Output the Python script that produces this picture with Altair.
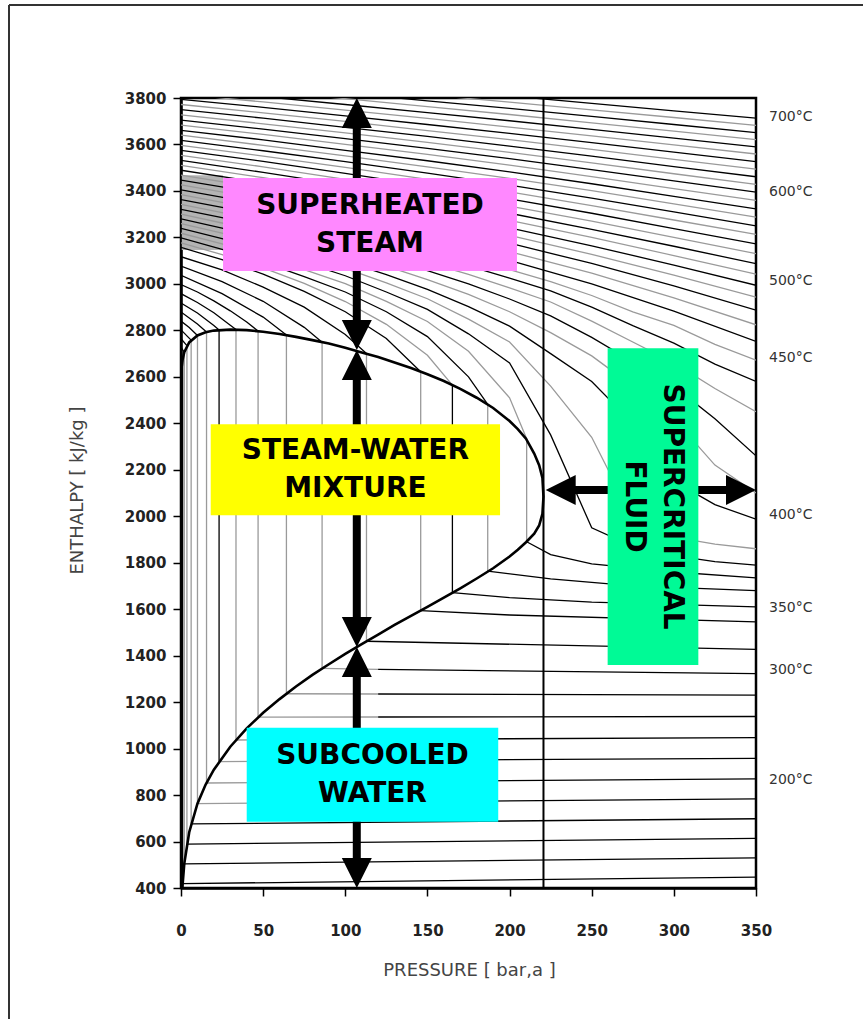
import altair as alt
import pandas as pd

# ---------------------------------------------------------------------------
# Axis ranges and ticks
# ---------------------------------------------------------------------------
P_DOMAIN = [0, 350]            # pressure, bar(a)
H_DOMAIN = [400, 3800]         # enthalpy, kJ/kg
P_TICKS = [0, 50, 100, 150, 200, 250, 300, 350]
H_TICKS = list(range(400, 3801, 200))
P_CRIT = 220.64                # critical pressure, bar

# ---------------------------------------------------------------------------
# Isotherms above the critical temperature
# ---------------------------------------------------------------------------
P_FINE = [0, 25, 50, 75, 100, 125, 150, 175, 200, 225, 250, 275, 300, 325, 350]
P_COARSE = [0, 50, 100, 150, 200, 250, 300, 350]

# enthalpy along 380-450 °C isotherms, sampled on P_FINE
H_FINE = {
    380: [3239, 3195, 3147, 3093, 3035, 2965, 2890, 2785, 2660, 2350, 1950, 1870, 1830, 1805, 1790],
    390: [3259, 3218, 3172, 3121, 3067, 3004, 2936, 2848, 2750, 2560, 2340, 1990, 1910, 1880, 1860],
    400: [3280, 3240, 3196, 3148, 3097, 3040, 2976, 2902, 2818, 2700, 2580, 2400, 2151, 2050, 1987],
    410: [3300, 3262, 3220, 3175, 3128, 3076, 3018, 2955, 2880, 2790, 2690, 2560, 2420, 2220, 2100],
    420: [3321, 3285, 3245, 3202, 3158, 3110, 3057, 3000, 2935, 2862, 2770, 2665, 2560, 2420, 2260],
    430: [3342, 3307, 3269, 3228, 3187, 3142, 3093, 3041, 2983, 2922, 2840, 2750, 2660, 2550, 2450],
    440: [3363, 3329, 3293, 3254, 3214, 3172, 3126, 3078, 3025, 2970, 2900, 2820, 2745, 2655, 2580],
    450: [3384, 3351, 3317, 3280, 3241, 3201, 3157, 3111, 3061, 3010, 2950, 2880, 2821, 2740, 2672],
}

# enthalpy along 460-700 °C isotherms, sampled on P_COARSE
H_COARSE = {
    460: [3405, 3341, 3269, 3190, 3101, 3000, 2883, 2752],
    470: [3426, 3365, 3296, 3222, 3139, 3046, 2940, 2824],
    480: [3447, 3388, 3323, 3253, 3175, 3088, 2991, 2887],
    490: [3468, 3411, 3349, 3282, 3209, 3127, 3038, 2943],
    500: [3489, 3434, 3374, 3310, 3241, 3164, 3081, 2994],
    510: [3510, 3457, 3400, 3338, 3273, 3200, 3122, 3042],
    520: [3532, 3480, 3425, 3366, 3304, 3235, 3162, 3087],
    530: [3553, 3504, 3450, 3394, 3335, 3270, 3200, 3130],
    540: [3575, 3527, 3476, 3422, 3366, 3304, 3238, 3172],
    550: [3596, 3550, 3501, 3450, 3396, 3337, 3275, 3213],
    560: [3618, 3573, 3526, 3477, 3425, 3369, 3310, 3250],
    570: [3640, 3596, 3551, 3504, 3454, 3401, 3344, 3287],
    580: [3661, 3620, 3575, 3530, 3482, 3431, 3377, 3323],
    590: [3683, 3643, 3600, 3557, 3511, 3462, 3410, 3359],
    600: [3705, 3666, 3625, 3583, 3539, 3492, 3443, 3395],
    610: [3727, 3689, 3650, 3609, 3566, 3521, 3474, 3428],
    620: [3750, 3713, 3674, 3635, 3593, 3550, 3505, 3461],
    630: [3772, 3736, 3699, 3660, 3621, 3579, 3536, 3494],
    640: [3794, 3760, 3723, 3686, 3648, 3608, 3567, 3526],
    650: [3817, 3783, 3748, 3712, 3675, 3637, 3598, 3559],
    660: [3839, 3806, 3772, 3737, 3702, 3665, 3627, 3590],
    670: [3861, 3830, 3797, 3763, 3729, 3693, 3657, 3621],
    680: [3884, 3853, 3821, 3788, 3755, 3721, 3686, 3651],
    690: [3906, 3877, 3846, 3814, 3782, 3749, 3716, 3682],
    700: [3929, 3900, 3870, 3839, 3809, 3777, 3745, 3713],
}

# ---------------------------------------------------------------------------
# Isotherms below the critical temperature
# vapour branch: p = 0 up to saturation (last point sits on the vapour line)
# liquid branch: saturation (first point on the liquid line) up to 350 bar
# ---------------------------------------------------------------------------
VAP_P = {
    100: [0, 1.01],
    120: [0, 1.99],
    140: [0, 3.61],
    160: [0, 6.18],
    180: [0, 5, 10.03],
    200: [0, 10, 15.54],
    220: [0, 10, 20, 23.18],
    240: [0, 10, 20, 30, 33.47],
    260: [0, 10, 20, 30, 40, 46.92],
    280: [0, 25, 50, 64.17],
    300: [0, 25, 50, 75, 85.88],
    320: [0, 25, 50, 75, 100, 112.9],
    340: [0, 25, 50, 75, 100, 125, 145.9],
    350: [0, 25, 50, 75, 100, 125, 150, 165.2],
    360: [0, 25, 50, 75, 100, 125, 150, 175, 186.7],
    370: [0, 25, 50, 75, 100, 125, 150, 175, 200, 210.4],
}
VAP_H = {
    100: [2688, 2676],
    120: [2727, 2706],
    140: [2764, 2734],
    160: [2802, 2758],
    180: [2840, 2812, 2778],
    200: [2879, 2827, 2793],
    220: [2918, 2875, 2821, 2802],
    240: [2958, 2920, 2876, 2822, 2804],
    260: [2997, 2965, 2927, 2884, 2836, 2797],
    280: [3037, 2958, 2857, 2780],
    300: [3077, 3010, 2925, 2813, 2749],
    320: [3117, 3060, 2986, 2900, 2782, 2700],
    340: [3157, 3104, 3042, 2968, 2880, 2765, 2622],
    350: [3177, 3126, 3069, 3002, 2924, 2826, 2693, 2564],
    360: [3198, 3149, 3094, 3031, 2965, 2880, 2773, 2600, 2481],
    370: [3218, 3172, 3120, 3061, 3001, 2925, 2838, 2710, 2510, 2334],
}
LIQ_P = {
    100: [1.01, 350],
    120: [1.99, 350],
    140: [3.61, 350],
    160: [6.18, 350],
    180: [10.03, 120, 350],
    200: [15.54, 120, 350],
    220: [23.18, 120, 350],
    240: [33.47, 120, 350],
    260: [46.92, 120, 350],
    280: [64.17, 120, 350],
    300: [85.88, 120, 350],
    320: [112.9, 350],
    340: [145.9, 200, 350],
    350: [165.2, 200, 250, 350],
    360: [186.7, 225, 275, 350],
    370: [210.4, 225, 250, 300, 350],
}
LIQ_H = {
    100: [419, 447],
    120: [504, 530],
    140: [589, 614],
    160: [676, 698],
    180: [763, 770, 784],
    200: [852, 858, 870],
    220: [944, 949, 958],
    240: [1037, 1040, 1047],
    260: [1135, 1136, 1138],
    280: [1236, 1235, 1230],
    300: [1345, 1341, 1323],
    320: [1462, 1427],
    340: [1594, 1575, 1545],
    350: [1671, 1650, 1630, 1610],
    360: [1764, 1730, 1700, 1680],
    370: [1890, 1835, 1795, 1760, 1735],
}
BLACK_MIX = [100, 220, 350]              # two-phase verticals drawn in black
GREY_LIQ = [180, 200, 220, 240, 260, 280, 300]
LIQ_SPLIT = 120                          # grey/black change on those liquid lines

# ---------------------------------------------------------------------------
# Saturation dome (liquid line up to the critical point, then vapour line)
# ---------------------------------------------------------------------------
DOME_P = [0.7, 1, 2, 5, 10, 15, 20, 30, 40, 50, 60, 70, 80, 90, 100, 110, 120,
          130, 140, 150, 160, 170, 180, 190, 200, 205, 210, 215, 218, 220, 220.64,
          220, 218, 215, 210, 205, 200, 190, 180, 170, 160, 150, 140, 130, 120,
          110, 100, 90, 80, 70, 60, 50, 40, 30, 20, 15, 10, 5, 2, 1, 0.5]
DOME_H = [377, 417, 505, 640, 763, 845, 909, 1008, 1087, 1154, 1213, 1267, 1317,
          1363, 1408, 1450, 1491, 1532, 1571, 1610, 1650, 1690, 1732, 1776, 1827,
          1856, 1888, 1925, 1960, 2010, 2084,
          2165, 2220, 2270, 2334, 2375, 2410, 2466, 2510, 2548, 2582, 2611, 2638,
          2662, 2685, 2705, 2725, 2743, 2758, 2772, 2784, 2794, 2801, 2803, 2799,
          2792, 2778, 2748, 2706, 2675, 2646]

# grey hatch patch in the low-pressure superheated corner
PATCH_P = [0.5, 25.6]
PATCH_TOP = [3468, 3468]
PATCH_BOT = [3146, 3146]

# ---------------------------------------------------------------------------
# Region boxes and their labels
# ---------------------------------------------------------------------------
BOX_NAMES = ["superheated", "mixture", "subcooled", "supercritical"]
BOX_P1 = [25.6, 18.1, 40.0, 259.7]
BOX_P2 = [204.5, 194.2, 193.1, 314.9]
BOX_H1 = [3456, 2396, 1090, 2723]
BOX_H2 = [3055, 2004, 685, 1360]
BOX_FILL = ["#ff88ff", "#ffff00", "#00ffff", "#00fa96"]
BOX_TEXT = ["SUPERHEATED\nSTEAM", "STEAM-WATER\nMIXTURE", "SUBCOOLED\nWATER",
            "SUPERCRITICAL\nFLUID"]
BOX_ANGLE = [0, 0, 0, 90]

# isotherm labels at the right-hand edge
TEMP_LABELS = ["700°C", "600°C", "500°C", "450°C", "400°C", "350°C", "300°C", "200°C"]
TEMP_LABEL_H = [3718, 3395, 3012, 2681, 2005, 1605, 1338, 865]

# arrows: vertical ones at 107 bar between the saturation lines, horizontal
# one across the supercritical field
ARROW_P = 107
ARROW_H = [3800, 2715, 1437, 400]
HARROW_H = 2113
HARROW_P = [222, 350]

# ---------------------------------------------------------------------------
# Build tables
# ---------------------------------------------------------------------------
rows = []


def add_segment(seg, shade, ps, hs):
    for i, (p, h) in enumerate(zip(ps, hs)):
        rows.append({"seg": seg, "shade": shade, "k": i, "p": p, "h": h})


def vapour_shade(t):
    return "black" if (t // 10) % 2 == 0 else "grey"


for t in sorted(VAP_P):
    add_segment(f"{t}-vap", vapour_shade(t), VAP_P[t], VAP_H[t])
    ps = VAP_P[t][-1]
    add_segment(f"{t}-mix", "black" if t in BLACK_MIX else "grey",
                [ps, ps], [VAP_H[t][-1], LIQ_H[t][0]])
    lp, lh = LIQ_P[t], LIQ_H[t]
    if t in GREY_LIQ:
        lo = [(p, h) for p, h in zip(lp, lh) if p <= LIQ_SPLIT]
        hi = [(p, h) for p, h in zip(lp, lh) if p >= LIQ_SPLIT]
        add_segment(f"{t}-liq-a", "grey", [a for a, _ in lo], [b for _, b in lo])
        add_segment(f"{t}-liq-b", "black", [a for a, _ in hi], [b for _, b in hi])
    else:
        add_segment(f"{t}-liq", "black", lp, lh)

for t, hs in H_FINE.items():
    add_segment(f"{t}-sc", vapour_shade(t), P_FINE, hs)
for t, hs in H_COARSE.items():
    add_segment(f"{t}-sc", vapour_shade(t), P_COARSE, hs)

iso_df = pd.DataFrame(rows)
dome_df = pd.DataFrame({"p": DOME_P, "h": DOME_H, "k": list(range(len(DOME_P)))})
patch_df = pd.DataFrame({"p": PATCH_P, "h": PATCH_TOP, "h2": PATCH_BOT})

box_df = pd.DataFrame({"name": BOX_NAMES, "p": BOX_P1, "p2": BOX_P2,
                       "h": BOX_H1, "h2": BOX_H2, "fill": BOX_FILL,
                       "label": BOX_TEXT, "angle": BOX_ANGLE})
box_df["pc"] = (box_df["p"] + box_df["p2"]) / 2
box_df["hc"] = (box_df["h"] + box_df["h2"]) / 2

temp_df = pd.DataFrame({"label": TEMP_LABELS, "h": TEMP_LABEL_H, "p": 350})

vshaft_df = pd.DataFrame({"p": ARROW_P, "h": ARROW_H[:-1], "h2": ARROW_H[1:]})
hshaft_df = pd.DataFrame({"p": [HARROW_P[0]], "p2": [HARROW_P[1]], "h": [HARROW_H]})

head_rows = []
for top, bottom in zip(ARROW_H[:-1], ARROW_H[1:]):
    head_rows.append({"p": ARROW_P, "h": top, "dir": "up"})
    head_rows.append({"p": ARROW_P, "h": bottom, "dir": "down"})
head_rows.append({"p": HARROW_P[0], "h": HARROW_H, "dir": "left"})
head_rows.append({"p": HARROW_P[1], "h": HARROW_H, "dir": "right"})
head_df = pd.DataFrame(head_rows)

crit_df = pd.DataFrame({"p": [P_CRIT], "h": [H_DOMAIN[1]], "h2": [H_DOMAIN[0]]})

# ---------------------------------------------------------------------------
# Encodings
# ---------------------------------------------------------------------------
TICK_FONT = "DejaVu Sans"

x_axis = alt.Axis(values=P_TICKS, format="d", title="PRESSURE [ bar,a ]",
                  grid=False, domainColor="black", domainWidth=2.5,
                  tickColor="black", tickWidth=1.5, tickSize=8,
                  labelFont=TICK_FONT, labelFontSize=15, labelFontWeight="bold",
                  labelColor="#222", labelPadding=27, labelFlush=False,
                  titleFont=TICK_FONT, titleFontSize=18, titleFontWeight="normal",
                  titleColor="#444", titleX=288, titleY=82,
                  titleBaseline="middle", titleAlign="center")
y_axis = alt.Axis(values=H_TICKS, format="d", title="ENTHALPY [ kJ/kg ]",
                  grid=False, domainColor="black", domainWidth=2.5,
                  tickColor="black", tickWidth=1.5, tickSize=8,
                  labelFont=TICK_FONT, labelFontSize=15, labelFontWeight="bold",
                  labelColor="#222", labelPadding=7, labelFlush=False,
                  titleFont=TICK_FONT, titleFontSize=18, titleFontWeight="normal",
                  titleColor="#444", titleX=-104, titleY=392, titleAngle=-90,
                  titleBaseline="middle", titleAlign="center")

p_scale = alt.Scale(domain=P_DOMAIN, nice=False, zero=False)
h_scale = alt.Scale(domain=H_DOMAIN, nice=False, zero=False)


def X(field="p"):
    return alt.X(f"{field}:Q", scale=p_scale, axis=x_axis)


def Y(field="h"):
    return alt.Y(f"{field}:Q", scale=h_scale, axis=y_axis)


patch = alt.Chart(patch_df).mark_area(color="#b4b4b4", clip=True).encode(
    x=X(), y=Y(), y2="h2:Q")

isotherms = alt.Chart(iso_df).mark_line(strokeWidth=1.3, clip=True).encode(
    x=X(), y=Y(), detail="seg:N", order="k:Q",
    color=alt.Color("shade:N", legend=None,
                    scale=alt.Scale(domain=["black", "grey"],
                                    range=["#000000", "#9a9a9a"])))

dome = alt.Chart(dome_df).mark_line(color="black", strokeWidth=2.6, clip=True).encode(
    x=X(), y=Y(), order="k:Q")

crit = alt.Chart(crit_df).mark_rule(color="black", strokeWidth=2).encode(
    x=X(), y=Y(), y2="h2:Q")

vshaft = alt.Chart(vshaft_df).mark_rule(
    color="black", strokeWidth=8, yOffset=20, y2Offset=-20).encode(
    x=X(), y=Y(), y2="h2:Q")
hshaft = alt.Chart(hshaft_df).mark_rule(
    color="black", strokeWidth=8, xOffset=20, x2Offset=-20).encode(
    x=X(), x2="p2:Q", y=Y())

HEAD_PATHS = {
    "up": "M0,0L-1,2L1,2Z",
    "down": "M0,0L-1,-2L1,-2Z",
    "left": "M0,0L2,-1L2,1Z",
    "right": "M0,0L-2,-1L-2,1Z",
}
heads = alt.Chart(head_df).mark_point(
    filled=True, size=900, color="black", opacity=1, strokeWidth=0).encode(
    x=X(), y=Y(),
    shape=alt.Shape("dir:N", legend=None,
                    scale=alt.Scale(domain=list(HEAD_PATHS),
                                    range=list(HEAD_PATHS.values()))))

boxes = alt.Chart(box_df).mark_rect().encode(
    x=X(), x2="p2:Q", y=Y(), y2="h2:Q",
    color=alt.Color("fill:N", scale=None))

LINE_H = 38
box_text = alt.Chart(box_df).transform_filter("datum.angle == 0").mark_text(
    font="DejaVu Sans", fontWeight="bold", fontSize=28, lineBreak="\n",
    lineHeight=LINE_H, dy=-LINE_H / 2, align="center", baseline="middle",
    color="black").encode(
    x=X("pc"), y=Y("hc"), text="label:N")

box_text_v = alt.Chart(box_df).transform_filter("datum.angle == 90").mark_text(
    font="DejaVu Sans", fontWeight="bold", fontSize=28, lineBreak="\n",
    lineHeight=LINE_H, dy=-LINE_H / 2, align="center", baseline="middle",
    angle=90, color="black").encode(
    x=X("pc"), y=Y("hc"), text="label:N")

temp_text = alt.Chart(temp_df).mark_text(
    font="DejaVu Sans", fontSize=14, align="left", baseline="middle",
    dx=13, color="#333").encode(x=X(), y=Y(), text="label:N")

# outer figure frame (left and top edges)
frame_left = alt.Chart(pd.DataFrame({"k": [0]})).mark_rule(
    color="#333", strokeWidth=2).encode(
    x=alt.value(-172), y=alt.value(-93), y2=alt.value(940))
frame_top = alt.Chart(pd.DataFrame({"k": [0]})).mark_rule(
    color="#333", strokeWidth=2).encode(
    x=alt.value(-172), x2=alt.value(700), y=alt.value(-93))

chart = alt.layer(
    patch, isotherms, dome, crit, vshaft, hshaft, heads,
    boxes, box_text, box_text_v, temp_text, frame_left, frame_top,
).properties(
    width=575, height=790,
    autosize=alt.AutoSizeParams(type="none"),
    padding={"left": 181, "top": 98, "right": 107, "bottom": 131},
    background="white",
).configure_view(stroke="black", strokeWidth=2.5)

chart.save("out.html", embed_options={"renderer": "svg", "actions": False})
